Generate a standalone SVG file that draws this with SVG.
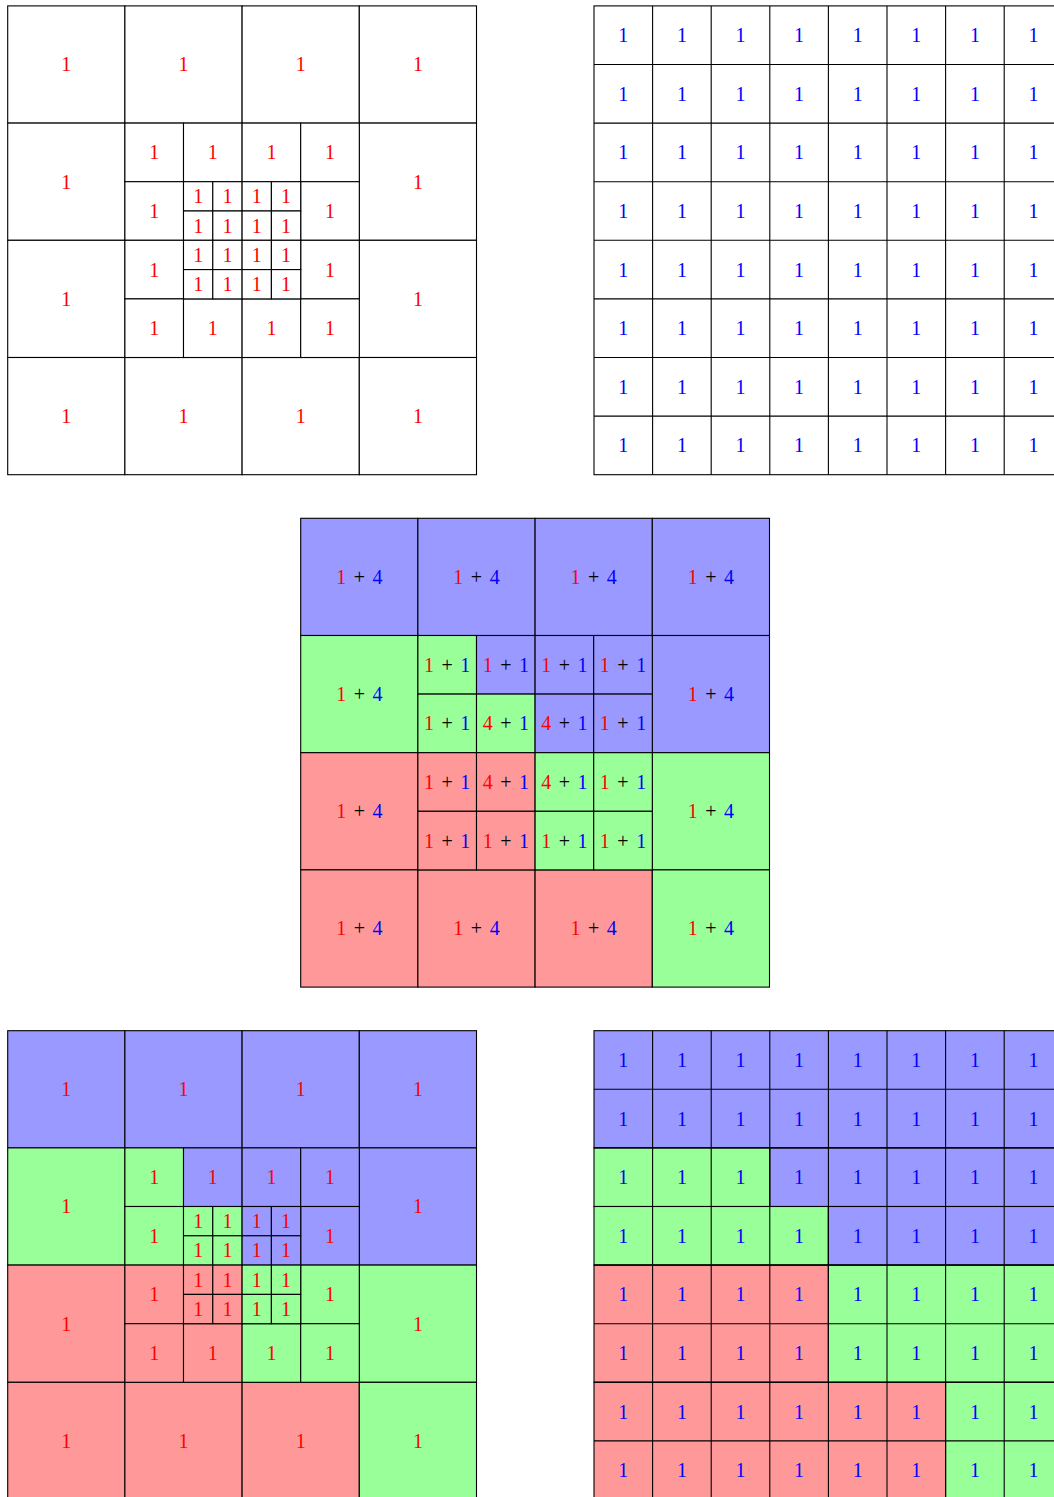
<svg xmlns="http://www.w3.org/2000/svg" width="1054" height="1497" viewBox="0 0 1054 1497">
<style>
rect{stroke:#000;stroke-width:1.1}
.W{fill:#fff}.B{fill:#9999ff}.G{fill:#99ff99}.R{fill:#ff9999}
text{font-family:"Liberation Serif","DejaVu Serif",serif;font-size:20px;text-anchor:middle}
.r{fill:#ff0000}.b{fill:#0000ff}.k{fill:#000}
.p{word-spacing:2.5px}
</style>

<g id="panelA" transform="translate(7.7,5.9)">
<g class="W">
<rect x="0" y="0" width="117.2" height="117.2"/><rect x="117.2" y="0" width="117.2" height="117.2"/><rect x="234.4" y="0" width="117.2" height="117.2"/><rect x="351.6" y="0" width="117.2" height="117.2"/>
<rect x="0" y="117.2" width="117.2" height="117.2"/><rect x="351.6" y="117.2" width="117.2" height="117.2"/>
<rect x="0" y="234.4" width="117.2" height="117.2"/><rect x="351.6" y="234.4" width="117.2" height="117.2"/>
<rect x="0" y="351.6" width="117.2" height="117.2"/><rect x="117.2" y="351.6" width="117.2" height="117.2"/><rect x="234.4" y="351.6" width="117.2" height="117.2"/><rect x="351.6" y="351.6" width="117.2" height="117.2"/>
<rect x="117.2" y="117.2" width="58.6" height="58.6"/><rect x="175.8" y="117.2" width="58.6" height="58.6"/><rect x="234.4" y="117.2" width="58.6" height="58.6"/><rect x="293" y="117.2" width="58.6" height="58.6"/>
<rect x="117.2" y="175.8" width="58.6" height="58.6"/><rect x="293" y="175.8" width="58.6" height="58.6"/>
<rect x="117.2" y="234.4" width="58.6" height="58.6"/><rect x="293" y="234.4" width="58.6" height="58.6"/>
<rect x="117.2" y="293" width="58.6" height="58.6"/><rect x="175.8" y="293" width="58.6" height="58.6"/><rect x="234.4" y="293" width="58.6" height="58.6"/><rect x="293" y="293" width="58.6" height="58.6"/>
<rect x="175.8" y="175.8" width="29.3" height="29.3"/><rect x="205.1" y="175.8" width="29.3" height="29.3"/><rect x="234.4" y="175.8" width="29.3" height="29.3"/><rect x="263.7" y="175.8" width="29.3" height="29.3"/>
<rect x="175.8" y="205.1" width="29.3" height="29.3"/><rect x="205.1" y="205.1" width="29.3" height="29.3"/><rect x="234.4" y="205.1" width="29.3" height="29.3"/><rect x="263.7" y="205.1" width="29.3" height="29.3"/>
<rect x="175.8" y="234.4" width="29.3" height="29.3"/><rect x="205.1" y="234.4" width="29.3" height="29.3"/><rect x="234.4" y="234.4" width="29.3" height="29.3"/><rect x="263.7" y="234.4" width="29.3" height="29.3"/>
<rect x="175.8" y="263.7" width="29.3" height="29.3"/><rect x="205.1" y="263.7" width="29.3" height="29.3"/><rect x="234.4" y="263.7" width="29.3" height="29.3"/><rect x="263.7" y="263.7" width="29.3" height="29.3"/>
</g>
<g class="r">
<text x="58.6" y="65.6">1</text><text x="175.8" y="65.6">1</text><text x="293" y="65.6">1</text><text x="410.2" y="65.6">1</text>
<text x="58.6" y="182.8">1</text><text x="410.2" y="182.8">1</text>
<text x="58.6" y="300">1</text><text x="410.2" y="300">1</text>
<text x="58.6" y="417.2">1</text><text x="175.8" y="417.2">1</text><text x="293" y="417.2">1</text><text x="410.2" y="417.2">1</text>
<text x="146.5" y="153.5">1</text><text x="205.1" y="153.5">1</text><text x="263.7" y="153.5">1</text><text x="322.3" y="153.5">1</text>
<text x="146.5" y="212.1">1</text><text x="322.3" y="212.1">1</text>
<text x="146.5" y="270.7">1</text><text x="322.3" y="270.7">1</text>
<text x="146.5" y="329.3">1</text><text x="205.1" y="329.3">1</text><text x="263.7" y="329.3">1</text><text x="322.3" y="329.3">1</text>
<text x="190.45" y="197.45">1</text><text x="219.75" y="197.45">1</text><text x="249.05" y="197.45">1</text><text x="278.35" y="197.45">1</text>
<text x="190.45" y="226.75">1</text><text x="219.75" y="226.75">1</text><text x="249.05" y="226.75">1</text><text x="278.35" y="226.75">1</text>
<text x="190.45" y="256.05">1</text><text x="219.75" y="256.05">1</text><text x="249.05" y="256.05">1</text><text x="278.35" y="256.05">1</text>
<text x="190.45" y="285.35">1</text><text x="219.75" y="285.35">1</text><text x="249.05" y="285.35">1</text><text x="278.35" y="285.35">1</text>
</g>
</g>

<g id="panelB" transform="translate(594,5.9)">
<g class="W">
<rect x="0" y="0" width="468.8" height="468.8"/>
</g>
<g stroke="#000" stroke-width="1.1">
<line x1="58.6" y1="0" x2="58.6" y2="468.8"/><line x1="117.2" y1="0" x2="117.2" y2="468.8"/><line x1="175.8" y1="0" x2="175.8" y2="468.8"/><line x1="234.4" y1="0" x2="234.4" y2="468.8"/><line x1="293" y1="0" x2="293" y2="468.8"/><line x1="351.6" y1="0" x2="351.6" y2="468.8"/><line x1="410.2" y1="0" x2="410.2" y2="468.8"/>
<line x1="0" y1="58.6" x2="468.8" y2="58.6"/><line x1="0" y1="117.2" x2="468.8" y2="117.2"/><line x1="0" y1="175.8" x2="468.8" y2="175.8"/><line x1="0" y1="234.4" x2="468.8" y2="234.4"/><line x1="0" y1="293" x2="468.8" y2="293"/><line x1="0" y1="351.6" x2="468.8" y2="351.6"/><line x1="0" y1="410.2" x2="468.8" y2="410.2"/>
</g>
<g class="b">
<text x="29.3" y="36.3">1</text><text x="87.9" y="36.3">1</text><text x="146.5" y="36.3">1</text><text x="205.1" y="36.3">1</text><text x="263.7" y="36.3">1</text><text x="322.3" y="36.3">1</text><text x="380.9" y="36.3">1</text><text x="439.5" y="36.3">1</text>
<text x="29.3" y="94.9">1</text><text x="87.9" y="94.9">1</text><text x="146.5" y="94.9">1</text><text x="205.1" y="94.9">1</text><text x="263.7" y="94.9">1</text><text x="322.3" y="94.9">1</text><text x="380.9" y="94.9">1</text><text x="439.5" y="94.9">1</text>
<text x="29.3" y="153.5">1</text><text x="87.9" y="153.5">1</text><text x="146.5" y="153.5">1</text><text x="205.1" y="153.5">1</text><text x="263.7" y="153.5">1</text><text x="322.3" y="153.5">1</text><text x="380.9" y="153.5">1</text><text x="439.5" y="153.5">1</text>
<text x="29.3" y="212.1">1</text><text x="87.9" y="212.1">1</text><text x="146.5" y="212.1">1</text><text x="205.1" y="212.1">1</text><text x="263.7" y="212.1">1</text><text x="322.3" y="212.1">1</text><text x="380.9" y="212.1">1</text><text x="439.5" y="212.1">1</text>
<text x="29.3" y="270.7">1</text><text x="87.9" y="270.7">1</text><text x="146.5" y="270.7">1</text><text x="205.1" y="270.7">1</text><text x="263.7" y="270.7">1</text><text x="322.3" y="270.7">1</text><text x="380.9" y="270.7">1</text><text x="439.5" y="270.7">1</text>
<text x="29.3" y="329.3">1</text><text x="87.9" y="329.3">1</text><text x="146.5" y="329.3">1</text><text x="205.1" y="329.3">1</text><text x="263.7" y="329.3">1</text><text x="322.3" y="329.3">1</text><text x="380.9" y="329.3">1</text><text x="439.5" y="329.3">1</text>
<text x="29.3" y="387.9">1</text><text x="87.9" y="387.9">1</text><text x="146.5" y="387.9">1</text><text x="205.1" y="387.9">1</text><text x="263.7" y="387.9">1</text><text x="322.3" y="387.9">1</text><text x="380.9" y="387.9">1</text><text x="439.5" y="387.9">1</text>
<text x="29.3" y="446.5">1</text><text x="87.9" y="446.5">1</text><text x="146.5" y="446.5">1</text><text x="205.1" y="446.5">1</text><text x="263.7" y="446.5">1</text><text x="322.3" y="446.5">1</text><text x="380.9" y="446.5">1</text><text x="439.5" y="446.5">1</text>
</g>
</g>

<g id="panelC" transform="translate(300.7,518.3)">
<rect class="B" x="0" y="0" width="117.2" height="117.2"/><rect class="B" x="117.2" y="0" width="117.2" height="117.2"/><rect class="B" x="234.4" y="0" width="117.2" height="117.2"/><rect class="B" x="351.6" y="0" width="117.2" height="117.2"/>
<rect class="G" x="0" y="117.2" width="117.2" height="117.2"/><rect class="B" x="351.6" y="117.2" width="117.2" height="117.2"/>
<rect class="R" x="0" y="234.4" width="117.2" height="117.2"/><rect class="G" x="351.6" y="234.4" width="117.2" height="117.2"/>
<rect class="R" x="0" y="351.6" width="117.2" height="117.2"/><rect class="R" x="117.2" y="351.6" width="117.2" height="117.2"/><rect class="R" x="234.4" y="351.6" width="117.2" height="117.2"/><rect class="G" x="351.6" y="351.6" width="117.2" height="117.2"/>
<rect class="G" x="117.2" y="117.2" width="58.6" height="58.6"/><rect class="B" x="175.8" y="117.2" width="58.6" height="58.6"/><rect class="B" x="234.4" y="117.2" width="58.6" height="58.6"/><rect class="B" x="293" y="117.2" width="58.6" height="58.6"/>
<rect class="G" x="117.2" y="175.8" width="58.6" height="58.6"/><rect class="G" x="175.8" y="175.8" width="58.6" height="58.6"/><rect class="B" x="234.4" y="175.8" width="58.6" height="58.6"/><rect class="B" x="293" y="175.8" width="58.6" height="58.6"/>
<rect class="R" x="117.2" y="234.4" width="58.6" height="58.6"/><rect class="R" x="175.8" y="234.4" width="58.6" height="58.6"/><rect class="G" x="234.4" y="234.4" width="58.6" height="58.6"/><rect class="G" x="293" y="234.4" width="58.6" height="58.6"/>
<rect class="R" x="117.2" y="293" width="58.6" height="58.6"/><rect class="R" x="175.8" y="293" width="58.6" height="58.6"/><rect class="G" x="234.4" y="293" width="58.6" height="58.6"/><rect class="G" x="293" y="293" width="58.6" height="58.6"/>
<g class="p">
<text x="58.6" y="65.6"><tspan class="r">1</tspan><tspan class="k"> + </tspan><tspan class="b">4</tspan></text>
<text x="175.8" y="65.6"><tspan class="r">1</tspan><tspan class="k"> + </tspan><tspan class="b">4</tspan></text>
<text x="293" y="65.6"><tspan class="r">1</tspan><tspan class="k"> + </tspan><tspan class="b">4</tspan></text>
<text x="410.2" y="65.6"><tspan class="r">1</tspan><tspan class="k"> + </tspan><tspan class="b">4</tspan></text>
<text x="58.6" y="182.8"><tspan class="r">1</tspan><tspan class="k"> + </tspan><tspan class="b">4</tspan></text>
<text x="410.2" y="182.8"><tspan class="r">1</tspan><tspan class="k"> + </tspan><tspan class="b">4</tspan></text>
<text x="58.6" y="300"><tspan class="r">1</tspan><tspan class="k"> + </tspan><tspan class="b">4</tspan></text>
<text x="410.2" y="300"><tspan class="r">1</tspan><tspan class="k"> + </tspan><tspan class="b">4</tspan></text>
<text x="58.6" y="417.2"><tspan class="r">1</tspan><tspan class="k"> + </tspan><tspan class="b">4</tspan></text>
<text x="175.8" y="417.2"><tspan class="r">1</tspan><tspan class="k"> + </tspan><tspan class="b">4</tspan></text>
<text x="293" y="417.2"><tspan class="r">1</tspan><tspan class="k"> + </tspan><tspan class="b">4</tspan></text>
<text x="410.2" y="417.2"><tspan class="r">1</tspan><tspan class="k"> + </tspan><tspan class="b">4</tspan></text>
<text x="146.5" y="153.5"><tspan class="r">1</tspan><tspan class="k"> + </tspan><tspan class="b">1</tspan></text>
<text x="205.1" y="153.5"><tspan class="r">1</tspan><tspan class="k"> + </tspan><tspan class="b">1</tspan></text>
<text x="263.7" y="153.5"><tspan class="r">1</tspan><tspan class="k"> + </tspan><tspan class="b">1</tspan></text>
<text x="322.3" y="153.5"><tspan class="r">1</tspan><tspan class="k"> + </tspan><tspan class="b">1</tspan></text>
<text x="146.5" y="212.1"><tspan class="r">1</tspan><tspan class="k"> + </tspan><tspan class="b">1</tspan></text>
<text x="205.1" y="212.1"><tspan class="r">4</tspan><tspan class="k"> + </tspan><tspan class="b">1</tspan></text>
<text x="263.7" y="212.1"><tspan class="r">4</tspan><tspan class="k"> + </tspan><tspan class="b">1</tspan></text>
<text x="322.3" y="212.1"><tspan class="r">1</tspan><tspan class="k"> + </tspan><tspan class="b">1</tspan></text>
<text x="146.5" y="270.7"><tspan class="r">1</tspan><tspan class="k"> + </tspan><tspan class="b">1</tspan></text>
<text x="205.1" y="270.7"><tspan class="r">4</tspan><tspan class="k"> + </tspan><tspan class="b">1</tspan></text>
<text x="263.7" y="270.7"><tspan class="r">4</tspan><tspan class="k"> + </tspan><tspan class="b">1</tspan></text>
<text x="322.3" y="270.7"><tspan class="r">1</tspan><tspan class="k"> + </tspan><tspan class="b">1</tspan></text>
<text x="146.5" y="329.3"><tspan class="r">1</tspan><tspan class="k"> + </tspan><tspan class="b">1</tspan></text>
<text x="205.1" y="329.3"><tspan class="r">1</tspan><tspan class="k"> + </tspan><tspan class="b">1</tspan></text>
<text x="263.7" y="329.3"><tspan class="r">1</tspan><tspan class="k"> + </tspan><tspan class="b">1</tspan></text>
<text x="322.3" y="329.3"><tspan class="r">1</tspan><tspan class="k"> + </tspan><tspan class="b">1</tspan></text>
</g>
</g>

<g id="panelD" transform="translate(7.7,1030.7)">
<rect class="B" x="0" y="0" width="117.2" height="117.2"/><rect class="B" x="117.2" y="0" width="117.2" height="117.2"/><rect class="B" x="234.4" y="0" width="117.2" height="117.2"/><rect class="B" x="351.6" y="0" width="117.2" height="117.2"/>
<rect class="G" x="0" y="117.2" width="117.2" height="117.2"/><rect class="B" x="351.6" y="117.2" width="117.2" height="117.2"/>
<rect class="R" x="0" y="234.4" width="117.2" height="117.2"/><rect class="G" x="351.6" y="234.4" width="117.2" height="117.2"/>
<rect class="R" x="0" y="351.6" width="117.2" height="117.2"/><rect class="R" x="117.2" y="351.6" width="117.2" height="117.2"/><rect class="R" x="234.4" y="351.6" width="117.2" height="117.2"/><rect class="G" x="351.6" y="351.6" width="117.2" height="117.2"/>
<rect class="G" x="117.2" y="117.2" width="58.6" height="58.6"/><rect class="B" x="175.8" y="117.2" width="58.6" height="58.6"/><rect class="B" x="234.4" y="117.2" width="58.6" height="58.6"/><rect class="B" x="293" y="117.2" width="58.6" height="58.6"/>
<rect class="G" x="117.2" y="175.8" width="58.6" height="58.6"/><rect class="B" x="293" y="175.8" width="58.6" height="58.6"/>
<rect class="R" x="117.2" y="234.4" width="58.6" height="58.6"/><rect class="G" x="293" y="234.4" width="58.6" height="58.6"/>
<rect class="R" x="117.2" y="293" width="58.6" height="58.6"/><rect class="R" x="175.8" y="293" width="58.6" height="58.6"/><rect class="G" x="234.4" y="293" width="58.6" height="58.6"/><rect class="G" x="293" y="293" width="58.6" height="58.6"/>
<rect class="G" x="175.8" y="175.8" width="29.3" height="29.3"/><rect class="G" x="205.1" y="175.8" width="29.3" height="29.3"/><rect class="B" x="234.4" y="175.8" width="29.3" height="29.3"/><rect class="B" x="263.7" y="175.8" width="29.3" height="29.3"/>
<rect class="G" x="175.8" y="205.1" width="29.3" height="29.3"/><rect class="G" x="205.1" y="205.1" width="29.3" height="29.3"/><rect class="B" x="234.4" y="205.1" width="29.3" height="29.3"/><rect class="B" x="263.7" y="205.1" width="29.3" height="29.3"/>
<rect class="R" x="175.8" y="234.4" width="29.3" height="29.3"/><rect class="R" x="205.1" y="234.4" width="29.3" height="29.3"/><rect class="G" x="234.4" y="234.4" width="29.3" height="29.3"/><rect class="G" x="263.7" y="234.4" width="29.3" height="29.3"/>
<rect class="R" x="175.8" y="263.7" width="29.3" height="29.3"/><rect class="R" x="205.1" y="263.7" width="29.3" height="29.3"/><rect class="G" x="234.4" y="263.7" width="29.3" height="29.3"/><rect class="G" x="263.7" y="263.7" width="29.3" height="29.3"/>
<g class="r">
<text x="58.6" y="65.6">1</text><text x="175.8" y="65.6">1</text><text x="293" y="65.6">1</text><text x="410.2" y="65.6">1</text>
<text x="58.6" y="182.8">1</text><text x="410.2" y="182.8">1</text>
<text x="58.6" y="300">1</text><text x="410.2" y="300">1</text>
<text x="58.6" y="417.2">1</text><text x="175.8" y="417.2">1</text><text x="293" y="417.2">1</text><text x="410.2" y="417.2">1</text>
<text x="146.5" y="153.5">1</text><text x="205.1" y="153.5">1</text><text x="263.7" y="153.5">1</text><text x="322.3" y="153.5">1</text>
<text x="146.5" y="212.1">1</text><text x="322.3" y="212.1">1</text>
<text x="146.5" y="270.7">1</text><text x="322.3" y="270.7">1</text>
<text x="146.5" y="329.3">1</text><text x="205.1" y="329.3">1</text><text x="263.7" y="329.3">1</text><text x="322.3" y="329.3">1</text>
<text x="190.45" y="197.45">1</text><text x="219.75" y="197.45">1</text><text x="249.05" y="197.45">1</text><text x="278.35" y="197.45">1</text>
<text x="190.45" y="226.75">1</text><text x="219.75" y="226.75">1</text><text x="249.05" y="226.75">1</text><text x="278.35" y="226.75">1</text>
<text x="190.45" y="256.05">1</text><text x="219.75" y="256.05">1</text><text x="249.05" y="256.05">1</text><text x="278.35" y="256.05">1</text>
<text x="190.45" y="285.35">1</text><text x="219.75" y="285.35">1</text><text x="249.05" y="285.35">1</text><text x="278.35" y="285.35">1</text>
</g>
</g>

<g id="panelE" transform="translate(594,1030.7)">
<rect class="B" x="0" y="0" width="468.8" height="117.2"/>
<rect class="G" x="0" y="117.2" width="175.8" height="58.6"/><rect class="B" x="175.8" y="117.2" width="293" height="58.6"/>
<rect class="G" x="0" y="175.8" width="234.4" height="58.6"/><rect class="B" x="234.4" y="175.8" width="234.4" height="58.6"/>
<rect class="R" x="0" y="234.4" width="234.4" height="117.2"/><rect class="G" x="234.4" y="234.4" width="234.4" height="117.2"/>
<rect class="R" x="0" y="351.6" width="351.6" height="117.2"/><rect class="G" x="351.6" y="351.6" width="117.2" height="117.2"/>
<g stroke="#000" stroke-width="1.1">
<line x1="58.6" y1="0" x2="58.6" y2="468.8"/><line x1="117.2" y1="0" x2="117.2" y2="468.8"/><line x1="175.8" y1="0" x2="175.8" y2="468.8"/><line x1="234.4" y1="0" x2="234.4" y2="468.8"/><line x1="293" y1="0" x2="293" y2="468.8"/><line x1="351.6" y1="0" x2="351.6" y2="468.8"/><line x1="410.2" y1="0" x2="410.2" y2="468.8"/>
<line x1="0" y1="58.6" x2="468.8" y2="58.6"/><line x1="0" y1="117.2" x2="468.8" y2="117.2"/><line x1="0" y1="175.8" x2="468.8" y2="175.8"/><line x1="0" y1="234.4" x2="468.8" y2="234.4"/><line x1="0" y1="293" x2="468.8" y2="293"/><line x1="0" y1="351.6" x2="468.8" y2="351.6"/><line x1="0" y1="410.2" x2="468.8" y2="410.2"/>
</g>
<g class="b">
<text x="29.3" y="36.3">1</text><text x="87.9" y="36.3">1</text><text x="146.5" y="36.3">1</text><text x="205.1" y="36.3">1</text><text x="263.7" y="36.3">1</text><text x="322.3" y="36.3">1</text><text x="380.9" y="36.3">1</text><text x="439.5" y="36.3">1</text>
<text x="29.3" y="94.9">1</text><text x="87.9" y="94.9">1</text><text x="146.5" y="94.9">1</text><text x="205.1" y="94.9">1</text><text x="263.7" y="94.9">1</text><text x="322.3" y="94.9">1</text><text x="380.9" y="94.9">1</text><text x="439.5" y="94.9">1</text>
<text x="29.3" y="153.5">1</text><text x="87.9" y="153.5">1</text><text x="146.5" y="153.5">1</text><text x="205.1" y="153.5">1</text><text x="263.7" y="153.5">1</text><text x="322.3" y="153.5">1</text><text x="380.9" y="153.5">1</text><text x="439.5" y="153.5">1</text>
<text x="29.3" y="212.1">1</text><text x="87.9" y="212.1">1</text><text x="146.5" y="212.1">1</text><text x="205.1" y="212.1">1</text><text x="263.7" y="212.1">1</text><text x="322.3" y="212.1">1</text><text x="380.9" y="212.1">1</text><text x="439.5" y="212.1">1</text>
<text x="29.3" y="270.7">1</text><text x="87.9" y="270.7">1</text><text x="146.5" y="270.7">1</text><text x="205.1" y="270.7">1</text><text x="263.7" y="270.7">1</text><text x="322.3" y="270.7">1</text><text x="380.9" y="270.7">1</text><text x="439.5" y="270.7">1</text>
<text x="29.3" y="329.3">1</text><text x="87.9" y="329.3">1</text><text x="146.5" y="329.3">1</text><text x="205.1" y="329.3">1</text><text x="263.7" y="329.3">1</text><text x="322.3" y="329.3">1</text><text x="380.9" y="329.3">1</text><text x="439.5" y="329.3">1</text>
<text x="29.3" y="387.9">1</text><text x="87.9" y="387.9">1</text><text x="146.5" y="387.9">1</text><text x="205.1" y="387.9">1</text><text x="263.7" y="387.9">1</text><text x="322.3" y="387.9">1</text><text x="380.9" y="387.9">1</text><text x="439.5" y="387.9">1</text>
<text x="29.3" y="446.5">1</text><text x="87.9" y="446.5">1</text><text x="146.5" y="446.5">1</text><text x="205.1" y="446.5">1</text><text x="263.7" y="446.5">1</text><text x="322.3" y="446.5">1</text><text x="380.9" y="446.5">1</text><text x="439.5" y="446.5">1</text>
</g>
</g>
</svg>
